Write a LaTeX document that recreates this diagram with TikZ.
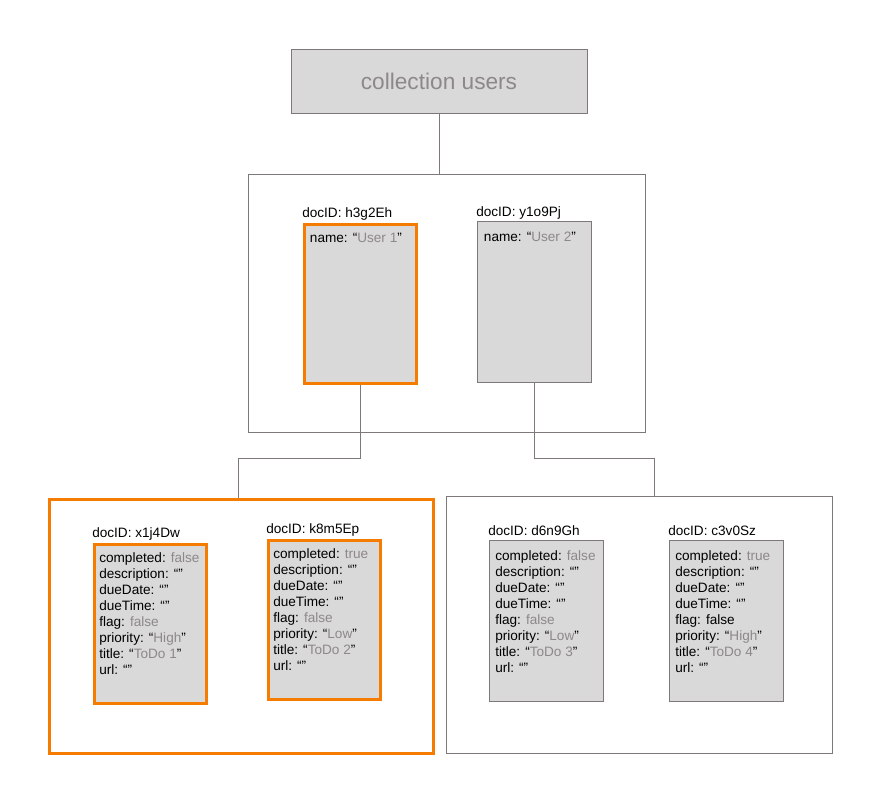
\documentclass[tikz,border=0pt]{standalone}
\usepackage{xcolor}
\usepackage{fontspec}
\setmainfont{Liberation Sans}
\usepackage{tikz}
\usetikzlibrary{positioning}

\definecolor{boxgray}{HTML}{D9D9D9}
\definecolor{linegray}{HTML}{7F7878}
\definecolor{valgray}{HTML}{8E8888}
\definecolor{pickorange}{HTML}{F57C00}
\newcommand{\fv}[1]{\textcolor{valgray}{#1}}

\begin{document}
\begin{tikzpicture}[
            x=0.75pt, y=-0.75pt, % one unit = one pixel of the sketch
            frame/.style={rectangle, draw=linegray, line width=0.75pt, fill=white, anchor=north west, inner sep=0pt},
            doc/.style={rectangle, draw=linegray, line width=0.75pt, fill=boxgray, anchor=north west, minimum width=85.5pt, minimum height=121pt, inner sep=0pt},
            picked/.style={draw=pickorange, line width=2.25pt},
            pickeddoc/.style={doc, picked, minimum width=84pt, minimum height=119.25pt},
            doclabel/.style={inner sep=0pt, text depth=0pt, font=\fontsize{10.2}{12}\selectfont},
            fields/.style={inner sep=0pt, align=left, font=\fontsize{10.2}{12}\selectfont},
            link/.style={draw=linegray, line width=0.75pt}
        ]
        \useasboundingbox (0,0) rectangle (880,800);

        % Collection
        \node[rectangle, draw=linegray, line width=0.75pt, fill=boxgray, minimum width=222pt, minimum height=48pt,
              text=valgray, font=\fontsize{17}{20}\selectfont] (coll) at (439,81) {collection users};

        % Users frame
        \node[frame, minimum width=297.75pt, minimum height=193.5pt] (users) at (248,174) {};

        \node[pickeddoc] (u1) at (303,222.5) {};
        \node[doc] (u2) at (477,221) {};
        \node[doclabel, above right=3.5pt and -0.75pt of u1.north west] (lu1) {docID: h3g2Eh};
        \node[doclabel, above right=3pt and -0.75pt of u2.north west] (lu2) {docID: y1o9Pj};
        \node[fields, below right=7.5pt and 5pt of u1.north west] (fu1) {name: “\fv{User 1}”};
        \node[fields, below right=8pt and 5pt of u2.north west] (fu2) {name: “\fv{User 2}”};

        % Todo frames
        \node[frame, picked, minimum width=288pt, minimum height=190.5pt] (todosA) at (47.5,497.5) {};
        \node[frame, minimum width=289.5pt, minimum height=192.75pt] (todosB) at (446,496) {};

        \node[pickeddoc] (t1) at (93,542.5) {};
        \node[pickeddoc] (t2) at (267,538.5) {};
        \node[doc] (t3) at (489,540) {};
        \node[doc] (t4) at (669,540) {};

        \node[doclabel, above right=3.5pt and -0.75pt of t1.north west] (lt1) {docID: x1j4Dw};
        \node[doclabel, above right=3.5pt and -0.75pt of t2.north west] (lt2) {docID: k8m5Ep};
        \node[doclabel, above right=3pt and -0.75pt of t3.north west] (lt3) {docID: d6n9Gh};
        \node[doclabel, above right=3pt and -0.75pt of t4.north west] (lt4) {docID: c3v0Sz};

        \node[fields, below right=7.5pt and 4.5pt of t1.north west] (ft1) {completed: \fv{false}\\ description: “”\\ dueDate: “”\\ dueTime: “”\\ flag: \fv{false}\\ priority: “\fv{High}”\\ title: “\fv{ToDo 1}”\\ url: “”};
        \node[fields, below right=7.5pt and 4.5pt of t2.north west] (ft2) {completed: \fv{true}\\ description: “”\\ dueDate: “”\\ dueTime: “”\\ flag: \fv{false}\\ priority: “\fv{Low}”\\ title: “\fv{ToDo 2}”\\ url: “”};
        \node[fields, below right=8pt and 4.5pt of t3.north west] (ft3) {completed: \fv{false}\\ description: “”\\ dueDate: “”\\ dueTime: “”\\ flag: \fv{false}\\ priority: “\fv{Low}”\\ title: “\fv{ToDo 3}”\\ url: “”};
        \node[fields, below right=8pt and 4.5pt of t4.north west] (ft4) {completed: \fv{true}\\ description: “”\\ dueDate: “”\\ dueTime: “”\\ flag: false\\ priority: “\fv{High}”\\ title: “\fv{ToDo 4}”\\ url: “”};

        % Connections
        \coordinate (split) at (0,458);
        \draw[link] (coll.south) -- (coll.south |- users.north);
        \draw[link] (u1.south) -- (u1.south |- split) -| ([xshift=-1.9pt]todosA.north);
        \draw[link] (u2.south) -- (u2.south |- split) -| ([xshift=11.25pt]todosB.north);

        \end{tikzpicture}
\end{document}
